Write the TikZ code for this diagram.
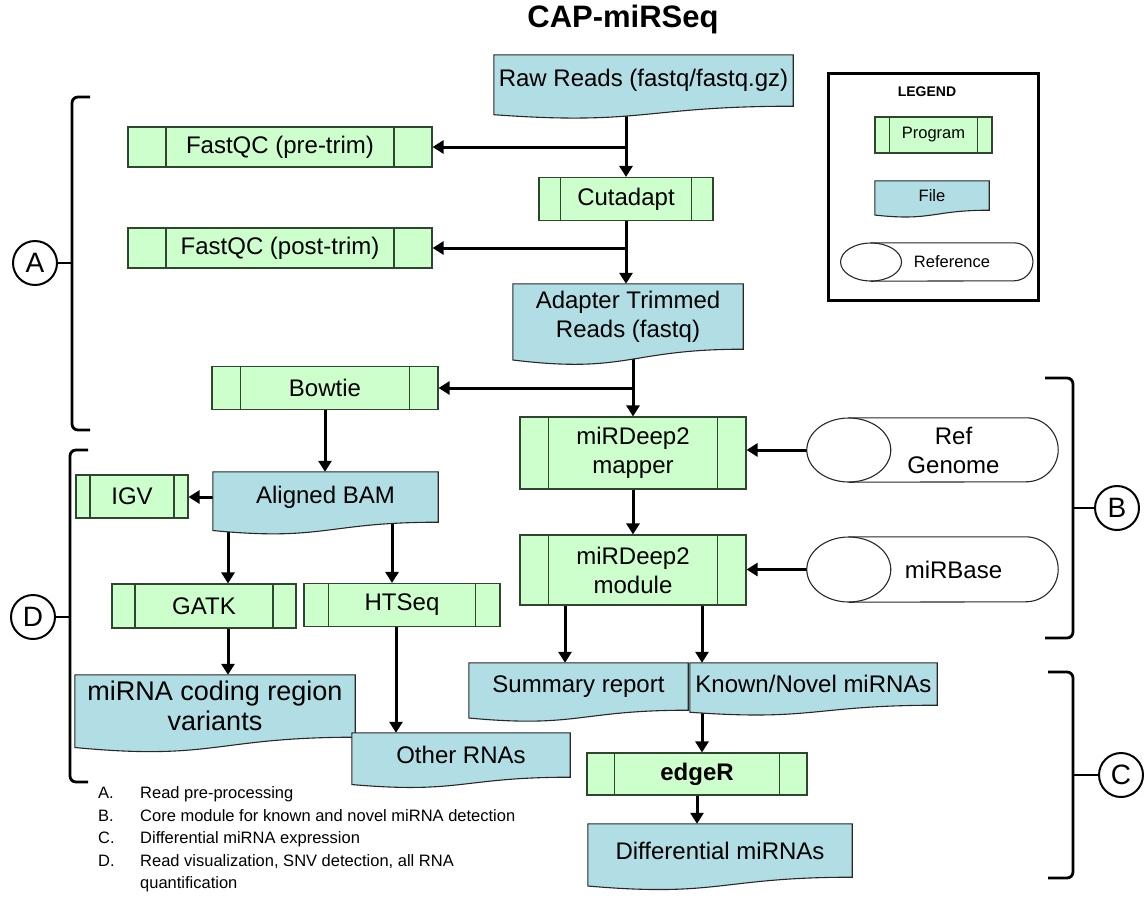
\documentclass[tikz,border=0pt]{standalone}
\usepackage{fontspec}
\setmainfont{Liberation Sans}
\usepackage{tikz}
\usetikzlibrary{arrows.meta, calc, positioning}

\definecolor{progfill}{RGB}{204,255,204}
\definecolor{progline}{RGB}{45,70,45}
\definecolor{filefill}{RGB}{176,222,228}
\definecolor{fileline}{RGB}{40,40,40}

\pgfdeclarelayer{wires}
\pgfdeclarelayer{fills}
\pgfsetlayers{wires,fills,main}

\tikzset{
  program/.style={draw=progline, fill=progfill, line width=1.1pt, inner sep=0pt, align=center,
    path picture={
      \draw[progline, line width=1.1pt]
        ($(path picture bounding box.north west)!0.125!(path picture bounding box.north east)$) --
        ($(path picture bounding box.south west)!0.125!(path picture bounding box.south east)$)
        ($(path picture bounding box.north west)!0.875!(path picture bounding box.north east)$) --
        ($(path picture bounding box.south west)!0.875!(path picture bounding box.south east)$);
    }},
  file/.style={inner sep=0pt, align=center},
  refdb/.style={inner sep=0pt, align=center},
  flow/.style={->, line width=3pt},
  brace/.style={line width=2.8pt, rounded corners=6pt},
  tag/.style={circle, draw, line width=2pt, minimum size=44pt, inner sep=0pt,
    font=\fontsize{28}{30}\selectfont}
}

% reference shape: name, x radius of the left ellipse, half height
\newcommand{\drum}[3]{%
  \draw[fileline, line width=1.1pt] (#1.north west) -- ([xshift=-#3pt]#1.north east)
    arc[start angle=90, end angle=-90, radius=#3pt] -- (#1.south west);
  \draw[fileline, line width=1.1pt] (#1.west) ellipse[x radius=#2pt, y radius=#3pt];}

\begin{document}
\begin{tikzpicture}[x=1pt, y=-1pt,
                    >={Triangle[length=11pt, width=13pt]},
                    font=\fontsize{24}{29}\selectfont]

	\useasboundingbox (0,0) rectangle (1146,898);

	\node[font=\fontsize{31}{33}\selectfont\bfseries] (title) at (623,19) {CAP-miRSeq};

	% pre-processing
	\node[file, minimum width=299pt, minimum height=51pt] (raw) at (643.5,80.5) {Raw Reads (fastq/fastq.gz)};
	\node[program, minimum width=304pt, minimum height=40pt] (fastqc1) at (280,147) {FastQC (pre-trim)};
	\node[program, minimum width=174pt, minimum height=43pt] (cutadapt) at (626,199) {Cutadapt};
	\node[program, minimum width=304pt, minimum height=40pt] (fastqc2) at (280,248) {FastQC (post-trim)};
	\node[file, minimum width=230pt, minimum height=65pt] (trim) at (628,316.5) {Adapter Trimmed\\Reads (fastq)};

	% core module
	\node[program, minimum width=226pt, minimum height=43pt] (bowtie) at (325,388) {Bowtie};
	\node[program, minimum width=226pt, minimum height=72pt] (mapper) at (633,453) {miRDeep2\\mapper};
	\node[refdb, minimum width=209pt, minimum height=64pt] (genome) at (953.5,450) {Ref\\Genome};
	\node[program, minimum width=226pt, minimum height=70pt] (module) at (633,570) {miRDeep2\\module};
	\node[refdb, minimum width=209pt, minimum height=65pt] (mirbase) at (953.5,569.5) {miRBase};

	% alignment branch
	\node[file, minimum width=225pt, minimum height=50pt] (bam) at (325.5,497) {Aligned BAM};
	\node[program, minimum width=112pt, minimum height=43pt] (igv) at (132,496.5) {IGV};
	\node[program, minimum width=184pt, minimum height=44pt] (gatk) at (204,606) {GATK};
	\node[program, minimum width=196pt, minimum height=43pt] (htseq) at (402,605) {HTSeq};
	\node[file, minimum width=280pt, minimum height=62pt, font=\fontsize{27}{30}\selectfont] (variants) at (215,706) {miRNA coding region\\variants};
	\node[file, minimum width=218pt, minimum height=44pt] (other) at (461,755) {Other RNAs};

	% outputs
	\node[file, minimum width=219pt, minimum height=47pt] (summary) at (578.5,686.5) {Summary report};
	\node[file, minimum width=247pt, minimum height=42pt] (known) at (813.5,684) {Known/Novel miRNAs};
	\node[program, minimum width=220pt, minimum height=42pt, font=\fontsize{24}{29}\selectfont\bfseries] (edger) at (697,774) {edgeR};
	\node[file, minimum width=264pt, minimum height=53pt] (diff) at (720,850.5) {Differential miRNAs};

	% legend
	\draw[line width=3pt] (828,73) rectangle (1038,300);
	\node[font=\fontsize{14}{16}\selectfont\bfseries] (legend) at (927,92) {LEGEND};
	\node[program, minimum width=117pt, minimum height=36pt, font=\fontsize{16.5}{19}\selectfont] (lprog) at (933.5,135) {Program};
	\node[file, minimum width=114pt, minimum height=29pt, font=\fontsize{16.5}{19}\selectfont] (lfile) at (932,195.5) {File};
	\node[refdb, minimum width=161.5pt, minimum height=38pt, font=\fontsize{16.5}{19}\selectfont] (lref) at (952,262) {Reference};

	% file and reference outlines
	\begin{pgfonlayer}{fills}
		\foreach \n in {raw,trim,bam,variants,other,summary,known,diff,lfile}
			\draw[fill=filefill, draw=fileline, line width=1.1pt]
				(\n.north west) -- (\n.north east) -- (\n.south east)
				.. controls (\n.south) and ($(\n.south)!-0.38!(\n.north)$) ..
				($(\n.south west)!-0.165!(\n.north west)$) -- cycle;
	\end{pgfonlayer}
	\drum{genome}{42}{32}
	\drum{mirbase}{42}{32.5}
	\drum{lref}{30.5}{19}

	% connectors
	\begin{pgfonlayer}{wires}
		\draw[flow] (raw.south -| cutadapt.north) -- (cutadapt.north);
		\draw[flow] (fastqc1.east -| cutadapt.north) -- (fastqc1.east);
		\draw[flow] (cutadapt.south) -- (cutadapt.south |- trim.north);
		\draw[flow] (fastqc2.east -| cutadapt.south) -- (fastqc2.east);
		\draw[flow] (trim.south -| mapper.north) -- (mapper.north);
		\draw[flow] (bowtie.east -| mapper.north) -- (bowtie.east);
		\draw[flow] (bowtie.south) -- (bowtie.south |- bam.north);
		\draw[flow] (bam.west) -- (bam.west -| igv.east);
		\draw[flow] ([xshift=24pt]gatk.north |- bam.south) -- ([xshift=24pt]gatk.north);
		\draw[flow] ([xshift=-10pt]htseq.north |- bam.south) -- ([xshift=-10pt]htseq.north);
		\draw[flow] ([xshift=24pt]gatk.south) -- ([xshift=24pt]gatk.south |- variants.north);
		\draw[flow] ([xshift=-6pt]htseq.south) -- ([xshift=-6pt]htseq.south |- other.north);
		\draw[flow] (mapper.south) -- (module.north);
		\draw[flow] ([xshift=-42pt]genome.west) -- (genome.west -| mapper.east);
		\draw[flow] ([xshift=-42pt]mirbase.west) -- (mirbase.west -| module.east);
		\draw[flow] ([xshift=-68pt]module.south) -- ([xshift=-68pt]module.south |- summary.north);
		\draw[flow] ([xshift=69pt]module.south) -- ([xshift=69pt]module.south |- known.north);
		\draw[flow] ([xshift=5pt]edger.north |- known.south) -- ([xshift=5pt]edger.north);
		\draw[flow] (edger.south) -- (edger.south |- diff.north);
	\end{pgfonlayer}

	% section brackets
	\draw[brace] (90,97) -- (72,97) -- (72,430) -- (90,430);
	\draw[brace] (88,450) -- (70,450) -- (70,782) -- (88,782);
	\draw[brace] (1045,378) -- (1073,378) -- (1073,638) -- (1045,638);
	\draw[brace] (1048,672) -- (1073,672) -- (1073,878) -- (1048,878);
	\coordinate (braceA) at (72,263);
	\coordinate (braceD) at (70,617);
	\coordinate (braceB) at (1073,508);
	\coordinate (braceC) at (1073,775);
	\node[tag] (tagA) at (35,263) {A};
	\node[tag] (tagD) at (33,617) {D};
	\node[tag] (tagB) at (1117,508) {B};
	\node[tag] (tagC) at (1121,775) {C};
	\foreach \t in {A,B,C,D}
		\draw[line width=2.8pt] (tag\t) -- (brace\t);

	% notes
	\node[anchor=north west, inner sep=0pt, font=\fontsize{16.5}{22.5}\selectfont] (notes) at (98,783) {%
		\begin{tabular}{@{}p{42pt}@{}l@{}}
			A. & Read pre-processing\\
			B. & Core module for known and novel miRNA detection\\
			C. & Differential miRNA expression\\
			D. & Read visualization, SNV detection, all RNA\\
			   & quantification
		\end{tabular}};
\end{tikzpicture}
\end{document}
